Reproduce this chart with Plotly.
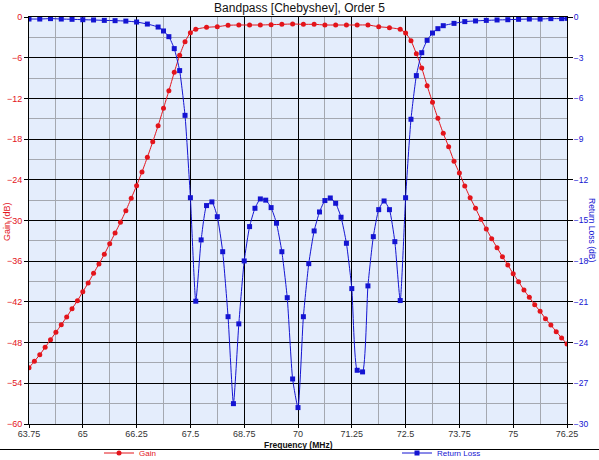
import plotly.graph_objects as go

# Bandpass Chebyshev order 5 response

gain_freq = [63.75, 63.875, 64.0, 64.125, 64.25, 64.375, 64.5, 64.625, 64.75, 64.875,
             65.0, 65.125, 65.25, 65.375, 65.5, 65.625, 65.75, 65.875, 66.0, 66.125,
             66.25, 66.375, 66.5, 66.625, 66.75, 66.875, 67.0, 67.125, 67.25, 67.375,
             67.5, 67.625, 67.875, 68.125, 68.375, 68.625, 68.875, 69.125, 69.375, 69.625,
             69.875, 70.125, 70.375, 70.625, 70.875, 71.125, 71.375, 71.625, 71.875, 72.125,
             72.375, 72.5, 72.625, 72.75, 72.875, 73.0, 73.125, 73.25, 73.375, 73.5,
             73.625, 73.75, 73.875, 74.0, 74.125, 74.25, 74.375, 74.5, 74.625, 74.75,
             74.875, 75.0, 75.125, 75.25, 75.375, 75.5, 75.625, 75.75, 75.875, 76.0,
             76.125, 76.25]
gain_db = [-51.7, -50.76, -49.78, -48.7, -47.57, -46.49, -45.36, -44.23, -43.0, -41.83,
           -40.5, -39.22, -37.79, -36.41, -34.99, -33.42, -31.84, -30.27, -28.56, -26.73,
           -24.87, -22.85, -20.68, -18.4, -16.02, -13.46, -10.87, -8.16, -5.65, -3.64,
           -2.31, -1.81, -1.52, -1.43, -1.22, -1.18, -1.18, -1.18, -1.13, -1.08,
           -1.03, -1.08, -1.08, -1.18, -1.18, -1.18, -1.18, -1.18, -1.43, -1.57,
           -1.82, -2.36, -3.49, -5.41, -7.52, -10.12, -12.58, -14.94, -17.15, -19.12,
           -21.27, -23.0, -24.92, -26.64, -28.2, -29.83, -31.26, -32.68, -34.0, -35.34,
           -36.56, -37.84, -39.02, -40.25, -41.32, -42.42, -43.39, -44.48, -45.41, -46.39,
           -47.32, -48.2]

rl_freq = [63.75, 64.0, 64.25, 64.5, 64.75, 65.0, 65.25, 65.5, 65.75, 66.0,
           66.25, 66.5, 66.75, 66.875, 67.0, 67.125, 67.25, 67.375, 67.5, 67.625,
           67.75, 67.875, 68.0, 68.125, 68.25, 68.375, 68.5, 68.625, 68.75, 68.875,
           69.0, 69.125, 69.25, 69.375, 69.5, 69.625, 69.75, 69.875, 70.0, 70.125,
           70.25, 70.375, 70.5, 70.625, 70.75, 70.875, 71.0, 71.125, 71.25, 71.375,
           71.5, 71.625, 71.75, 71.875, 72.0, 72.125, 72.25, 72.375, 72.5, 72.625,
           72.75, 72.875, 73.0, 73.125, 73.25, 73.375, 73.625, 73.875, 74.125, 74.375,
           74.625, 74.875, 75.125, 75.375, 75.625, 75.875, 76.125, 76.25]
rl_db = [-0.15, -0.15, -0.12, -0.15, -0.17, -0.2, -0.22, -0.25, -0.27, -0.3,
         -0.37, -0.52, -0.74, -1.03, -1.45, -2.33, -3.95, -7.25, -13.32, -20.95,
         -16.43, -13.9, -13.63, -14.72, -17.3, -22.09, -28.5, -22.62, -17.98, -15.45,
         -14.1, -13.41, -13.5, -14.05, -15.2, -17.3, -20.69, -26.68, -28.79, -22.09,
         -18.18, -15.77, -14.37, -13.53, -13.34, -13.73, -14.76, -16.68, -20.02, -26.04,
         -26.16, -19.82, -16.19, -14.2, -13.56, -14.2, -16.56, -20.9, -13.32, -7.54,
         -4.32, -2.63, -1.72, -1.18, -0.86, -0.64, -0.47, -0.34, -0.29, -0.25,
         -0.22, -0.2, -0.17, -0.15, -0.15, -0.12, -0.12, -0.1]

RED = "#e3141b"
BLUE = "#1414d2"

fig = go.Figure()
fig.add_trace(go.Scatter(
    x=gain_freq, y=gain_db, name="Gain", legend="legend",
    mode="lines+markers", line=dict(color=RED, width=1, shape="spline", smoothing=0.5),
    marker=dict(symbol="circle", size=5, color=RED)))
fig.add_trace(go.Scatter(
    x=rl_freq, y=rl_db, name="Return Loss", legend="legend2",
    yaxis="y2",
    mode="lines+markers", line=dict(color=BLUE, width=1, shape="spline", smoothing=0.5),
    marker=dict(symbol="square", size=5, color=BLUE)))

W, H = 599, 460
L, R, T, B = 29, 32, 17, 36
pw = W - L - R
ph = H - T - B


def px_x(p):
    return (p - L) / pw


def px_y(p):
    return (H - B - p) / ph


leg_common = dict(xref="container", yref="container", xanchor="left", yanchor="middle",
                  y=1 - 453 / H, bgcolor="rgba(0,0,0,0)", itemwidth=30)

fig.update_layout(
    width=W, height=H,
    margin=dict(l=L, r=R, t=T, b=B, autoexpand=False),
    paper_bgcolor="white",
    plot_bgcolor="#e4edfc",
    font=dict(family="Liberation Sans, Arial, sans-serif", size=9, color="#222"),
    title=dict(text="Bandpass [Chebyshev], Order 5", x=0.5, xanchor="center",
               y=1 - 8 / H, yanchor="middle", automargin=False,
               font=dict(size=12, color="#111")),
    showlegend=True,
    legend=dict(x=99 / W, font=dict(size=8, color=RED), **leg_common),
    legend2=dict(x=397 / W, font=dict(size=8, color=BLUE), **leg_common),
    xaxis=dict(range=[63.75, 76.25], tick0=63.75, dtick=1.25, showgrid=True,
               gridcolor="#000", gridwidth=1, zeroline=False, automargin=False,
               showline=True, linecolor="#000", linewidth=1, mirror=True,
               ticks="outside", ticklen=3, tickcolor="#000", ticklabelstandoff=-2,
               tickfont=dict(size=9, color="#333"),
               minor=dict(tick0=63.75, dtick=0.625, showgrid=True, gridcolor="#a4a8b0",
                          gridwidth=1, ticks="")),
    yaxis=dict(range=[-60, 0], tick0=0, dtick=6, showgrid=True,
               gridcolor="#000", gridwidth=1, zeroline=False, automargin=False,
               showline=True, linecolor="#000", linewidth=1,
               ticks="outside", ticklen=4, tickcolor="#000",
               tickfont=dict(size=9, color=RED),
               minor=dict(tick0=0, dtick=3, showgrid=True, gridcolor="#a4a8b0",
                          gridwidth=1, ticks="")),
    yaxis2=dict(range=[-30, 0], tick0=0, dtick=3, overlaying="y", side="right",
                showgrid=False, zeroline=False, automargin=False,
                showline=True, linecolor="#000", linewidth=1,
                ticks="outside", ticklen=5, tickcolor="#000", ticklabelstandoff=-1,
                tickfont=dict(size=8.5, color=BLUE)),
)

fig.add_annotation(text="Gain (dB)", textangle=-90, xref="paper", yref="paper",
                   x=px_x(7), y=px_y(222), xanchor="center", yanchor="middle",
                   showarrow=False, font=dict(size=9, color=RED))
fig.add_annotation(text="Return Loss (dB)", textangle=90, xref="paper", yref="paper",
                   x=px_x(592), y=px_y(230), xanchor="center", yanchor="middle",
                   showarrow=False, font=dict(size=8.5, color=BLUE))
fig.add_annotation(text="<b>Frequency (MHz)</b>", xref="paper", yref="paper",
                   x=px_x(298), y=px_y(444.5), xanchor="center", yanchor="middle",
                   showarrow=False, font=dict(size=8.5, color="#111"))

# separator line above the legend
fig.add_shape(type="line", xref="paper", yref="paper",
              x0=px_x(0), x1=px_x(W), y0=px_y(449.5), y1=px_y(449.5),
              line=dict(color="#000", width=1))

# drop the default page margin so the figure sits at the window's top-left corner
fig.write_html("out.html", config={"displayModeBar": False},
               post_script="document.body.style.margin='0';")
